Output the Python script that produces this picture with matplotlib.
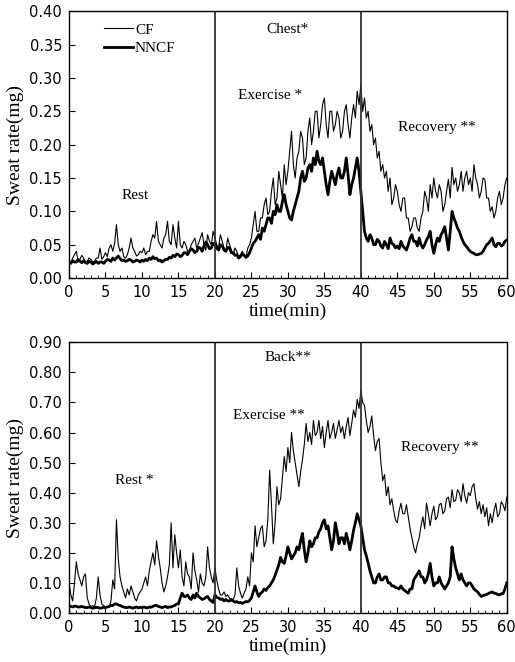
import numpy as np
import matplotlib
matplotlib.use("Agg")
import matplotlib.pyplot as plt
from matplotlib.ticker import MultipleLocator

# --- data, one value every 0.25 min ---
time_min = np.arange(0, 60.01, 0.25)

chest_cf = [
    0.025, 0.022, 0.03, 0.035, 0.04, 0.026, 0.028, 0.034, 0.03, 0.024, 0.025, 0.03, 0.028, 0.024, 0.025, 0.03, 0.03, 0.045, 0.028, 0.032,
    0.038, 0.032, 0.045, 0.05, 0.04, 0.052, 0.08, 0.05, 0.04, 0.045, 0.032, 0.03, 0.035, 0.045, 0.06, 0.045, 0.04, 0.033, 0.035, 0.04,
    0.038, 0.045, 0.035, 0.04, 0.04, 0.055, 0.065, 0.06, 0.085, 0.055, 0.05, 0.045, 0.06, 0.065, 0.085, 0.055, 0.05, 0.08, 0.06, 0.045,
    0.085, 0.05, 0.045, 0.055, 0.05, 0.04, 0.04, 0.05, 0.055, 0.06, 0.045, 0.052, 0.06, 0.068, 0.05, 0.042, 0.065, 0.055, 0.05, 0.07,
    0.06, 0.05, 0.045, 0.065, 0.055, 0.045, 0.04, 0.06, 0.05, 0.042, 0.035, 0.045, 0.04, 0.032, 0.035, 0.04, 0.035, 0.03, 0.045, 0.05,
    0.06, 0.08, 0.10, 0.07, 0.07, 0.09, 0.09, 0.11, 0.12, 0.095, 0.10, 0.13, 0.15, 0.11, 0.12, 0.16, 0.14, 0.12, 0.17, 0.14,
    0.16, 0.19, 0.22, 0.17, 0.15, 0.18, 0.19, 0.22, 0.21, 0.17, 0.18, 0.22, 0.24, 0.20, 0.22, 0.25, 0.25, 0.21, 0.23, 0.26,
    0.27, 0.23, 0.21, 0.25, 0.25, 0.22, 0.23, 0.25, 0.24, 0.21, 0.22, 0.25, 0.26, 0.23, 0.21, 0.24, 0.26, 0.24, 0.28, 0.26,
    0.29, 0.25, 0.27, 0.24, 0.25, 0.22, 0.23, 0.20, 0.21, 0.18, 0.19, 0.16, 0.17, 0.15, 0.16, 0.13, 0.15, 0.11, 0.12, 0.14,
    0.13, 0.11, 0.10, 0.12, 0.12, 0.09, 0.09, 0.07, 0.077, 0.09, 0.09, 0.075, 0.07, 0.09, 0.10, 0.13, 0.12, 0.10, 0.14, 0.12,
    0.15, 0.13, 0.12, 0.14, 0.13, 0.10, 0.11, 0.13, 0.148, 0.12, 0.166, 0.14, 0.15, 0.13, 0.14, 0.16, 0.13, 0.15, 0.16, 0.14,
    0.15, 0.13, 0.17, 0.15, 0.14, 0.12, 0.13, 0.15, 0.148, 0.12, 0.12, 0.10, 0.107, 0.09, 0.10, 0.12, 0.13, 0.11, 0.12, 0.14,
    0.15,
]
chest_nncf = [
    0.025, 0.022, 0.026, 0.024, 0.024, 0.028, 0.025, 0.023, 0.026, 0.023, 0.022, 0.025, 0.024, 0.021, 0.023, 0.025, 0.022, 0.024, 0.024, 0.022,
    0.025, 0.028, 0.027, 0.025, 0.03, 0.027, 0.03, 0.033, 0.029, 0.026, 0.027, 0.025, 0.026, 0.028, 0.027, 0.024, 0.025, 0.027, 0.026, 0.024,
    0.027, 0.025, 0.028, 0.026, 0.03, 0.028, 0.032, 0.029, 0.03, 0.026, 0.027, 0.024, 0.026, 0.028, 0.028, 0.031, 0.03, 0.034, 0.032, 0.036,
    0.035, 0.032, 0.034, 0.038, 0.038, 0.035, 0.04, 0.044, 0.042, 0.038, 0.04, 0.046, 0.045, 0.04, 0.048, 0.054, 0.05, 0.044, 0.045, 0.052,
    0.05, 0.045, 0.042, 0.05, 0.048, 0.042, 0.04, 0.046, 0.045, 0.038, 0.038, 0.034, 0.035, 0.03, 0.032, 0.036, 0.034, 0.031, 0.033, 0.038,
    0.045, 0.052, 0.055, 0.06, 0.065, 0.058, 0.075, 0.07, 0.08, 0.09, 0.09, 0.082, 0.10, 0.095, 0.11, 0.10, 0.10, 0.115, 0.125, 0.11,
    0.10, 0.09, 0.087, 0.10, 0.11, 0.12, 0.13, 0.15, 0.16, 0.145, 0.15, 0.165, 0.17, 0.16, 0.18, 0.17, 0.19, 0.175, 0.17, 0.18,
    0.16, 0.14, 0.125, 0.145, 0.16, 0.15, 0.14, 0.155, 0.165, 0.15, 0.15, 0.16, 0.18, 0.155, 0.125, 0.14, 0.15, 0.165, 0.18, 0.16,
    0.13, 0.10, 0.07, 0.06, 0.055, 0.065, 0.06, 0.05, 0.05, 0.058, 0.055, 0.048, 0.045, 0.055, 0.05, 0.044, 0.06, 0.052, 0.05, 0.045,
    0.048, 0.044, 0.055, 0.048, 0.045, 0.042, 0.05, 0.06, 0.065, 0.055, 0.055, 0.048, 0.06, 0.05, 0.045, 0.05, 0.057, 0.062, 0.07, 0.05,
    0.037, 0.05, 0.06, 0.055, 0.065, 0.07, 0.077, 0.06, 0.042, 0.07, 0.10, 0.09, 0.083, 0.075, 0.07, 0.062, 0.055, 0.05, 0.047, 0.043,
    0.04, 0.038, 0.037, 0.035, 0.035, 0.036, 0.037, 0.04, 0.045, 0.05, 0.052, 0.056, 0.06, 0.05, 0.047, 0.052, 0.052, 0.048, 0.05, 0.055,
    0.057,
]
back_cf = [
    0.10, 0.06, 0.04, 0.10, 0.17, 0.13, 0.11, 0.09, 0.12, 0.13, 0.05, 0.03, 0.02, 0.025, 0.02, 0.05, 0.12, 0.06, 0.03, 0.025,
    0.02, 0.02, 0.02, 0.04, 0.11, 0.08, 0.31, 0.18, 0.12, 0.09, 0.07, 0.05, 0.08, 0.06, 0.09, 0.07, 0.05, 0.04, 0.06, 0.07,
    0.08, 0.10, 0.12, 0.09, 0.14, 0.17, 0.20, 0.16, 0.24, 0.19, 0.15, 0.10, 0.07, 0.09, 0.12, 0.16, 0.30, 0.15, 0.26, 0.20,
    0.15, 0.21, 0.12, 0.09, 0.17, 0.13, 0.12, 0.08, 0.20, 0.14, 0.11, 0.07, 0.13, 0.10, 0.09, 0.12, 0.22, 0.15, 0.12, 0.10,
    0.15, 0.11, 0.08, 0.06, 0.06, 0.07, 0.055, 0.06, 0.05, 0.04, 0.045, 0.06, 0.15, 0.09, 0.066, 0.05, 0.066, 0.08, 0.12, 0.09,
    0.20, 0.17, 0.29, 0.22, 0.25, 0.28, 0.29, 0.22, 0.24, 0.31, 0.475, 0.36, 0.23, 0.30, 0.42, 0.36, 0.38, 0.45, 0.52, 0.47,
    0.55, 0.50, 0.60, 0.54, 0.50, 0.46, 0.42, 0.47, 0.51, 0.56, 0.63, 0.57, 0.60, 0.56, 0.64, 0.59, 0.60, 0.64, 0.58, 0.62,
    0.55, 0.60, 0.64, 0.58, 0.60, 0.63, 0.58, 0.61, 0.64, 0.60, 0.62, 0.58, 0.62, 0.65, 0.59, 0.63, 0.675, 0.65, 0.71, 0.68,
    0.74, 0.70, 0.69, 0.64, 0.60, 0.62, 0.655, 0.59, 0.54, 0.57, 0.58, 0.50, 0.44, 0.46, 0.39, 0.42, 0.36, 0.38, 0.34, 0.31,
    0.30, 0.34, 0.365, 0.33, 0.33, 0.36, 0.32, 0.28, 0.25, 0.22, 0.20, 0.23, 0.25, 0.29, 0.32, 0.28, 0.365, 0.33, 0.29, 0.33,
    0.355, 0.31, 0.32, 0.36, 0.365, 0.33, 0.34, 0.38, 0.385, 0.35, 0.41, 0.37, 0.375, 0.41, 0.40, 0.37, 0.43, 0.39, 0.365, 0.40,
    0.39, 0.42, 0.43, 0.38, 0.345, 0.37, 0.33, 0.36, 0.32, 0.35, 0.29, 0.33, 0.30, 0.34, 0.365, 0.32, 0.33, 0.37, 0.36, 0.34,
    0.385,
]
back_nncf = [
    0.025, 0.022, 0.02, 0.023, 0.022, 0.02, 0.02, 0.022, 0.02, 0.018, 0.018, 0.02, 0.018, 0.016, 0.017, 0.019, 0.018, 0.016, 0.017, 0.019,
    0.018, 0.02, 0.022, 0.025, 0.025, 0.03, 0.03, 0.027, 0.025, 0.022, 0.02, 0.018, 0.018, 0.02, 0.018, 0.016, 0.018, 0.02, 0.017, 0.019,
    0.018, 0.02, 0.018, 0.017, 0.02, 0.019, 0.022, 0.025, 0.025, 0.022, 0.02, 0.018, 0.02, 0.022, 0.018, 0.02, 0.02, 0.023, 0.025, 0.03,
    0.03, 0.05, 0.066, 0.055, 0.055, 0.06, 0.05, 0.045, 0.06, 0.05, 0.066, 0.055, 0.05, 0.045, 0.047, 0.052, 0.055, 0.045, 0.04, 0.035,
    0.06, 0.052, 0.05, 0.045, 0.047, 0.04, 0.045, 0.04, 0.04, 0.045, 0.04, 0.036, 0.038, 0.034, 0.035, 0.032, 0.035, 0.038, 0.037, 0.042,
    0.05, 0.07, 0.09, 0.07, 0.055, 0.065, 0.07, 0.08, 0.075, 0.085, 0.09, 0.10, 0.11, 0.125, 0.143, 0.16, 0.185, 0.17, 0.165, 0.19,
    0.22, 0.20, 0.18, 0.19, 0.20, 0.22, 0.21, 0.24, 0.265, 0.21, 0.17, 0.20, 0.24, 0.22, 0.23, 0.25, 0.25, 0.27, 0.28, 0.30,
    0.31, 0.28, 0.29, 0.25, 0.21, 0.24, 0.30, 0.27, 0.23, 0.25, 0.25, 0.23, 0.265, 0.24, 0.21, 0.24, 0.275, 0.30, 0.33, 0.31,
    0.29, 0.25, 0.21, 0.19, 0.166, 0.14, 0.12, 0.10, 0.10, 0.12, 0.13, 0.11, 0.11, 0.12, 0.12, 0.10, 0.10, 0.09, 0.09, 0.085,
    0.083, 0.08, 0.09, 0.08, 0.075, 0.07, 0.066, 0.08, 0.08, 0.11, 0.12, 0.13, 0.14, 0.12, 0.12, 0.10, 0.11, 0.13, 0.165, 0.12,
    0.09, 0.10, 0.10, 0.12, 0.10, 0.09, 0.08, 0.09, 0.10, 0.12, 0.22, 0.18, 0.15, 0.13, 0.11, 0.13, 0.11, 0.10, 0.09, 0.10,
    0.10, 0.09, 0.08, 0.075, 0.07, 0.062, 0.055, 0.058, 0.06, 0.062, 0.065, 0.068, 0.07, 0.066, 0.065, 0.062, 0.06, 0.064, 0.065, 0.08,
    0.10,
]

phase_bounds = [20, 40]
x_ticks = np.arange(0, 61, 5)

plt.rcParams['font.family'] = ['Liberation Serif', 'DejaVu Serif']

fig = plt.figure(figsize=(5.15, 6.62), dpi=100)
ax_top = fig.add_axes([0.134, 0.580, 0.850, 0.403])
ax_bot = fig.add_axes([0.134, 0.074, 0.850, 0.409])


def style_axis(ax, ymax, ystep, fmt):
    ax.set_xlim(0, 60)
    ax.set_ylim(0, ymax)
    ax.set_xticks(x_ticks)
    ax.xaxis.set_minor_locator(MultipleLocator(1))
    ax.set_yticks(np.arange(0, ymax + ystep / 2, ystep))
    ax.set_yticklabels([fmt.format(v) for v in ax.get_yticks()])
    ax.tick_params(which='both', direction='in', top=False, right=False)
    ax.tick_params(which='major', length=4, pad=5)
    ax.tick_params(which='minor', length=2.5)
    for lab in ax.get_xticklabels() + ax.get_yticklabels():
        lab.set_family('DejaVu Sans')
        lab.set_fontsize(10.5)
    for b in phase_bounds:
        ax.axvline(b, color='#333333', lw=1.3)
    ax.set_xlabel('time(min)', fontsize=14, labelpad=2)
    ax.set_ylabel('Sweat rate(mg)', fontsize=14, labelpad=4)
    for sp in ax.spines.values():
        sp.set_linewidth(1.0)


# --- chest ---
ax_top.plot(time_min, chest_cf, color='black', lw=0.8, label='CF')
ax_top.plot(time_min, chest_nncf, color='black', lw=2.0, label='NNCF')
style_axis(ax_top, 0.40, 0.05, '{:.2f}')
ax_top.legend(loc='upper left', bbox_to_anchor=(0.06, 0.99), frameon=False,
              handlelength=1.9, handletextpad=0.1, labelspacing=0.3,
              fontsize=11, borderaxespad=0.2)
ax_top.text(9, 0.124, 'Rest', ha='center', va='center', fontsize=11)
ax_top.text(30, 0.373, 'Chest*', ha='center', va='center', fontsize=11)
ax_top.text(27.5, 0.274, 'Exercise *', ha='center', va='center', fontsize=11)
ax_top.text(50.4, 0.225, 'Recovery **', ha='center', va='center', fontsize=11)

# --- back ---
ax_bot.plot(time_min, back_cf, color='black', lw=0.8)
ax_bot.plot(time_min, back_nncf, color='black', lw=2.0)
style_axis(ax_bot, 0.90, 0.10, '{:.2f}')
ax_bot.text(9, 0.44, 'Rest *', ha='center', va='center', fontsize=11)
ax_bot.text(30, 0.85, 'Back**', ha='center', va='center', fontsize=11)
ax_bot.text(27.4, 0.658, 'Exercise **', ha='center', va='center', fontsize=11)
ax_bot.text(50.8, 0.55, 'Recovery **', ha='center', va='center', fontsize=11)

fig.savefig('out.png', dpi=100)
